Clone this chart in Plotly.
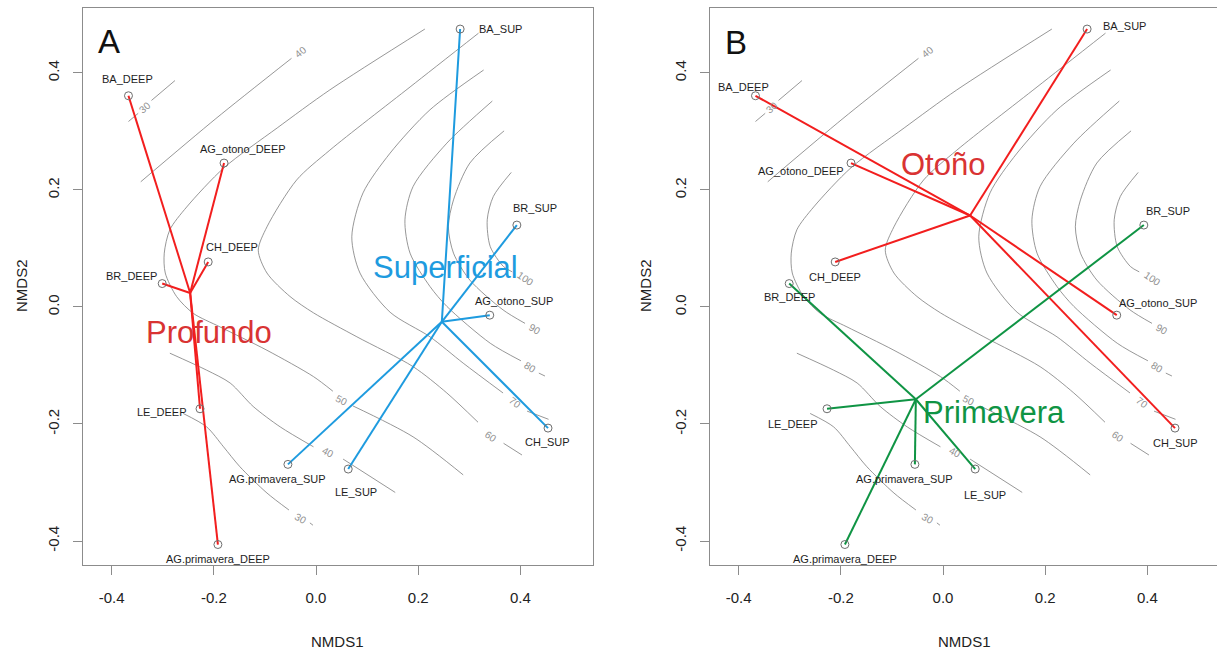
import plotly.graph_objects as go

# ---------------- data ----------------
sites = ["BA_DEEP", "AG_otono_DEEP", "CH_DEEP", "BR_DEEP", "LE_DEEP", "AG.primavera_DEEP",
         "BA_SUP", "BR_SUP", "AG_otono_SUP", "CH_SUP", "AG.primavera_SUP", "LE_SUP"]
nmds1 = [-0.367, -0.180, -0.211, -0.301, -0.227, -0.192,
         0.282, 0.393, 0.340, 0.454, -0.055, 0.063]
nmds2 = [0.361, 0.246, 0.077, 0.040, -0.174, -0.406,
         0.475, 0.140, -0.014, -0.207, -0.269, -0.277]
depth = ["Profundo"] * 6 + ["Superficial"] * 6
season = ["Otoño", "Otoño", "Otoño", "Primavera", "Primavera", "Primavera",
          "Otoño", "Primavera", "Otoño", "Otoño", "Primavera", "Primavera"]

tick_vals = [-0.4, -0.2, 0.0, 0.2, 0.4]
tick_text = ["-0.4", "-0.2", "0.0", "0.2", "0.4"]

c30_x = [-0.367, -0.348, None, -0.322, -0.276, None,
         -0.260, -0.214, -0.181, -0.149, -0.096, -0.053, None, -0.012, -0.006]
c30_y = [0.317, 0.331, None, 0.353, 0.387, None,
         -0.182, -0.205, -0.239, -0.273, -0.318, -0.347, None, -0.369, -0.373]
c40_x = [-0.343, -0.196, -0.048, None,
         -0.286, -0.214, -0.168, -0.123, -0.070, -0.005, None, 0.053, 0.155]
c40_y = [0.214, 0.322, 0.425, None,
         -0.079, -0.108, -0.130, -0.170, -0.205, -0.239, None, -0.260, -0.317]
c50_x = [0.213, 0.027, -0.076, -0.180, -0.253, -0.286, -0.297, -0.295, -0.273, -0.240,
         -0.188, -0.096, -0.005, 0.033, None, 0.072, 0.190, 0.288]
c50_y = [0.475, 0.371, 0.306, 0.238, 0.171, 0.132, 0.092, 0.058, 0.018, -0.011,
         -0.034, -0.074, -0.119, -0.144, None, -0.169, -0.222, -0.287]
c60_x = [0.318, 0.184, 0.027, -0.038, -0.096, -0.113, -0.096, -0.051, -0.005, 0.080,
         0.190, 0.256, 0.317, None, 0.367, 0.403]
c60_y = [0.468, 0.376, 0.268, 0.217, 0.137, 0.097, 0.058, 0.018, -0.010, -0.051,
         -0.102, -0.147, -0.197, None, -0.233, -0.253]
c70_x = [0.328, 0.223, 0.145, 0.092, 0.070, 0.086, 0.145, 0.223, 0.288, 0.366, None, 0.413, 0.455]
c70_y = [0.405, 0.337, 0.263, 0.195, 0.120, 0.058, -0.009, -0.051, -0.096, -0.147, None, -0.178, -0.192]
c80_x = [0.345, 0.256, 0.190, 0.174, 0.184, 0.223, 0.256, 0.341, 0.401, None, 0.436, 0.448]
c80_y = [0.352, 0.280, 0.206, 0.149, 0.092, 0.035, 0.001, -0.062, -0.092, None, -0.113, -0.118]
c90_x = [0.368, 0.301, 0.269, 0.259, 0.269, 0.301, 0.366, 0.409]
c90_y = [0.301, 0.246, 0.183, 0.137, 0.092, 0.046, -0.005, -0.028]
c100_x = [0.382, 0.347, 0.335, 0.341, 0.367, 0.384]
c100_y = [0.230, 0.189, 0.149, 0.103, 0.069, 0.060]

contour_label_text = ["30", "30", "40", "40", "50", "60", "70", "80", "90", "100"]
contour_label_x = [-0.335, -0.030, -0.029, 0.024, 0.051, 0.342, 0.389, 0.419, 0.429, 0.409]
contour_label_y = [0.341, -0.361, 0.436, -0.249, -0.159, -0.221, -0.164, -0.104, -0.038, 0.049]

# ---------------- styles / layout ----------------
W, H = 1217, 651
contour_xs = [c30_x, c40_x, c50_x, c60_x, c70_x, c80_x, c90_x, c100_x]
contour_ys = [c30_y, c40_y, c50_y, c60_y, c70_y, c80_y, c90_y, c100_y]
contour_label_angle = [-41, 30, -39, 28, 28, 36, 38, 32, 30, 35]

group_style = {
    "Profundo": dict(line="#F21E1E", text="#D93333"),
    "Superficial": dict(line="#1E9BDF", text="#1E9BDF"),
    "Otoño": dict(line="#F21E1E", text="#D93333"),
    "Primavera": dict(line="#0F9444", text="#0F9444"),
}
# group label positions (data units)
group_label_pos = {
    "Profundo": (-0.209, -0.043), "Superficial": (0.254, 0.068),
    "Otoño": (0.000, 0.243), "Primavera": (0.100, -0.180),
}
# point-label pixel offsets (dx right, dy down) for panel A and B
offA = {"BA_DEEP": (-1, -17), "AG_otono_DEEP": (19, -14), "CH_DEEP": (24, -15),
        "BR_DEEP": (-31, -8), "LE_DEEP": (-38, 3), "AG.primavera_DEEP": (0, 14),
        "BA_SUP": (40, 0), "BR_SUP": (18, -17), "AG_otono_SUP": (24, -14),
        "CH_SUP": (-1, 14), "AG.primavera_SUP": (-10, 15), "LE_SUP": (8, 23)}
offB = {"BA_DEEP": (-12, -9), "AG_otono_DEEP": (-50, 8), "CH_DEEP": (0, 15),
        "BR_DEEP": (0, 13), "LE_DEEP": (-34, 15), "AG.primavera_DEEP": (0, 14),
        "BA_SUP": (37, -3), "BR_SUP": (24, -14), "AG_otono_SUP": (41, -12),
        "CH_SUP": (0, 15), "AG.primavera_SUP": (-10, 15), "LE_SUP": (10, 26)}

FONT = "Liberation Sans, Arial, Helvetica, sans-serif"
fig = go.Figure()
annotations = []


def paper_text(px, py, text, size, color, angle=0):
    return dict(x=px / W, y=1 - py / H, xref="paper", yref="paper", text=text,
                showarrow=False, xanchor="center", yanchor="middle", textangle=angle,
                font=dict(family=FONT, size=size, color=color))


def add_panel(xr, yr, groups, offsets, letter, letter_px):
    # contours
    for cx, cy in zip(contour_xs, contour_ys):
        fig.add_trace(go.Scatter(x=cx, y=cy, mode="lines", xaxis=xr, yaxis=yr,
                                 line=dict(color="#7c7c7c", width=0.8, shape="spline",
                                           smoothing=0.8),
                                 hoverinfo="skip", showlegend=False))
    for t, lx, ly, ang in zip(contour_label_text, contour_label_x, contour_label_y,
                              contour_label_angle):
        annotations.append(dict(x=lx, y=ly, xref=xr, yref=yr, text=t, showarrow=False,
                                xanchor="center", yanchor="middle", textangle=ang,
                                font=dict(family=FONT, size=10, color="#8f8f8f")))
    # spiders
    for g in dict.fromkeys(groups):
        idx = [i for i, gg in enumerate(groups) if gg == g]
        cx = sum(nmds1[i] for i in idx) / len(idx)
        cy = sum(nmds2[i] for i in idx) / len(idx)
        xs, ys = [], []
        for i in idx:
            xs += [cx, nmds1[i], None]
            ys += [cy, nmds2[i], None]
        fig.add_trace(go.Scatter(x=xs, y=ys, mode="lines", xaxis=xr, yaxis=yr,
                                 line=dict(color=group_style[g]["line"], width=2),
                                 hoverinfo="skip", showlegend=False))
        gx, gy = group_label_pos[g]
        annotations.append(dict(x=gx, y=gy, xref=xr, yref=yr, text=g, showarrow=False,
                                xanchor="center", yanchor="middle",
                                font=dict(family=FONT, size=31, color=group_style[g]["text"])))
    # points
    fig.add_trace(go.Scatter(x=nmds1, y=nmds2, mode="markers", xaxis=xr, yaxis=yr,
                             marker=dict(symbol="circle-open", size=8, color="#6e6e6e",
                                         line=dict(width=1)),
                             hoverinfo="skip", showlegend=False))
    for s, px, py in zip(sites, nmds1, nmds2):
        dx, dy = offsets[s]
        annotations.append(dict(x=px, y=py, xref=xr, yref=yr, text=s, showarrow=False,
                                xanchor="center", yanchor="middle",
                                xshift=dx, yshift=-dy,
                                font=dict(family=FONT, size=11, color="#1e1e1e")))
    annotations.append(paper_text(letter_px[0], letter_px[1], letter, 33, "#111111"))


add_panel("x", "y", depth, offA, "A", (109, 42))
add_panel("x2", "y2", season, offB, "B", (736, 43))

# axis titles
annotations.append(paper_text(337, 641, "NMDS1", 15, "#222222"))
annotations.append(paper_text(964, 641, "NMDS1", 15, "#222222"))
annotations.append(paper_text(21, 286, "NMDS2", 15, "#222222", -90))
annotations.append(paper_text(645, 286, "NMDS2", 15, "#222222", -90))

ydom = [1 - 565 / H, 1 - 8 / H]
axis_common = dict(tickvals=tick_vals, ticktext=tick_text, ticks="outside", ticklen=9,
                   tickcolor="#8c8c8c", tickwidth=1, showline=True, linecolor="#8c8c8c",
                   linewidth=1, showgrid=False, zeroline=False,
                   tickfont=dict(family=FONT, size=15, color="#222222"))

fig.update_layout(
    width=W, height=H, margin=dict(l=0, r=0, t=0, b=0),
    plot_bgcolor="white", paper_bgcolor="white", showlegend=False,
    xaxis=dict(domain=[83 / W, 593 / W], range=[-0.456, 0.542], mirror=True,
               anchor="y", ticklabelstandoff=10, **axis_common),
    yaxis=dict(domain=ydom, range=[-0.441, 0.511], mirror=True, anchor="x",
               tickangle=-90, ticklabelstandoff=8, **axis_common),
    xaxis2=dict(domain=[710 / W, 1.0], range=[-0.456, (1217 - 943) / 511], mirror=True,
                anchor="y2", ticklabelstandoff=10, **axis_common),
    yaxis2=dict(domain=ydom, range=[-0.441, 0.511], mirror=False, anchor="x2",
                tickangle=-90, ticklabelstandoff=8, **axis_common),
    annotations=annotations,
)

fig.write_html("out.html", config={"displayModeBar": False},
               post_script="document.body.style.margin='0px';document.body.style.overflow='hidden';")
